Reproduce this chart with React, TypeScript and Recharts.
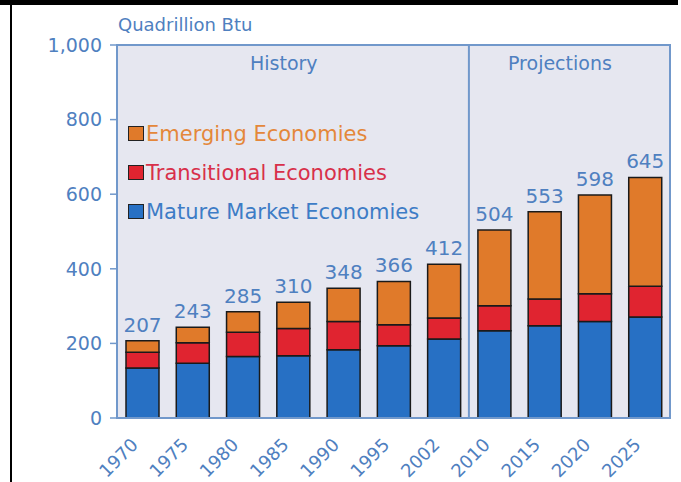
import React from "react";
import {
  BarChart, Bar, XAxis, YAxis, ReferenceArea, ReferenceLine, LabelList
} from "recharts";

const years = ["1970", "1975", "1980", "1985", "1990", "1995", "2002", "2010", "2015", "2020", "2025"];
const mature = [134, 147, 165, 167, 183, 194, 212, 234, 247, 259, 271];
const transitional = [42, 55, 65, 73, 76, 56, 56, 67, 72, 74, 82];
const emerging = [31, 41, 55, 70, 89, 116, 144, 203, 234, 265, 292];
const yTicks = [0, 200, 400, 600, 800, 1000];

const legendItems = [
  { name: "Emerging Economies", fill: "#e07a2a", text: "#e4873a" },
  { name: "Transitional Economies", fill: "#e02430", text: "#d8304a" },
  { name: "Mature Market Economies", fill: "#2770c4", text: "#3d7cc6" },
];

const data = years.map((year, i) => ({
  year,
  mature: mature[i],
  transitional: transitional[i],
  emerging: emerging[i],
  total: mature[i] + transitional[i] + emerging[i],
}));

const FONT = "DejaVu Sans, sans-serif";
const TEXT = "#4f80c0";
const AXIS = "#7198cb";

function YearTick(props: any) {
  const { x, y, payload } = props;
  return (
    <g transform={`translate(${x - 3},${y + 26})`}>
      <text transform="rotate(-45)" textAnchor="end" fill={TEXT} fontSize={18} fontFamily={FONT}>
        {payload.value}
      </text>
    </g>
  );
}

function LegendBox() {
  return (
    <div style={{ position: "absolute", left: 128, top: 114, fontFamily: FONT, fontSize: 21 }}>
      {legendItems.map((it) => (
        <div key={it.name} style={{ display: "flex", alignItems: "center", height: 39 }}>
          <span style={{ width: 14, height: 13, background: it.fill, border: "1.5px solid #222", marginRight: 2 }} />
          <span style={{ color: it.text }}>{it.name}</span>
        </div>
      ))}
    </div>
  );
}

export default function App() {
  return (
    <div style={{ position: "absolute", left: 0, top: 0, width: 681, height: 482, background: "#fff" }}>
      <div style={{ position: "absolute", left: 0, top: 0, width: 678, height: 5, background: "#000" }} />
      <div style={{ position: "absolute", left: 10, top: 5, width: 2, height: 477, background: "#000" }} />
      <div style={{ position: "absolute", left: 118, top: 14, fontFamily: FONT, fontSize: 18, color: TEXT }}>
        Quadrillion Btu
      </div>
      <BarChart
        width={681}
        height={482}
        data={data}
        margin={{ top: 45, right: 11, left: 0, bottom: 0 }}
        barSize={33}
      >
        <ReferenceArea y1={0} y2={1000} fill="#e6e7f0" fillOpacity={1} stroke={AXIS} strokeWidth={2} />
        <ReferenceLine x="2010" position="start" stroke={AXIS} strokeWidth={2} />
        <XAxis
          dataKey="year"
          height={64}
          tickLine={false}
          tickSize={0}
          axisLine={{ stroke: AXIS, strokeWidth: 2 }}
          tick={<YearTick />}
          interval={0}
        />
        <YAxis
          width={117}
          domain={[0, 1000]}
          ticks={yTicks}
          tickFormatter={(v: number) => v.toLocaleString("en-US")}
          tickSize={7}
          tickMargin={8}
          axisLine={{ stroke: AXIS, strokeWidth: 2 }}
          tickLine={{ stroke: AXIS, strokeWidth: 1.5 }}
          tick={{ fill: TEXT, fontSize: 19, fontFamily: FONT }}
        />
        <Bar dataKey="mature" stackId="a" fill="#2770c4" stroke="#1a1a1a" strokeWidth={1.5} isAnimationActive={false} />
        <Bar dataKey="transitional" stackId="a" fill="#e02430" stroke="#1a1a1a" strokeWidth={1.5} isAnimationActive={false} />
        <Bar dataKey="emerging" stackId="a" fill="#e07a2a" stroke="#1a1a1a" strokeWidth={1.5} isAnimationActive={false}>
          <LabelList dataKey="total" position="top" offset={9} fill={TEXT} fontSize={20} fontFamily={FONT} />
        </Bar>
      </BarChart>
      <LegendBox />
      <div style={{ position: "absolute", left: 250, top: 52, fontFamily: FONT, fontSize: 19, color: TEXT }}>
        History
      </div>
      <div style={{ position: "absolute", left: 508, top: 52, fontFamily: FONT, fontSize: 19, color: TEXT }}>
        Projections
      </div>
    </div>
  );
}
